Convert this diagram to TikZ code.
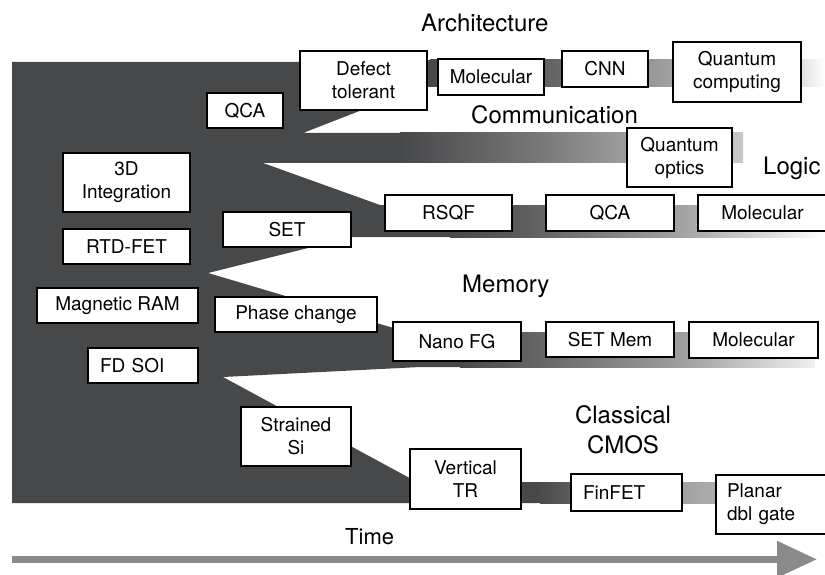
\documentclass[tikz,border=0pt]{standalone}
\usepackage{fontspec}
\setmainfont{TeX Gyre Heros}
\usetikzlibrary{arrows.meta}
\definecolor{dk}{RGB}{71,72,74}
\definecolor{gA1}{RGB}{100,100,100}
\definecolor{gA2}{RGB}{155,155,155}
\definecolor{gA3}{RGB}{225,225,225}
\definecolor{gC1}{RGB}{120,120,120}
\definecolor{gC2}{RGB}{155,155,155}
\definecolor{gC3}{RGB}{200,200,200}
\definecolor{gL1}{RGB}{95,95,95}
\definecolor{gL2}{RGB}{165,165,165}
\definecolor{gL3}{RGB}{250,250,250}
\definecolor{gM1}{RGB}{100,100,100}
\definecolor{gM2}{RGB}{158,158,158}
\definecolor{gM3}{RGB}{240,240,240}
\definecolor{gS0}{RGB}{75,75,75}
\definecolor{gS1}{RGB}{95,95,95}
\definecolor{gS2}{RGB}{165,165,165}
\definecolor{gS3}{RGB}{172,172,172}
\definecolor{arr}{RGB}{138,138,138}
% stops: fraction f -> 25+50f bp
\pgfdeclarehorizontalshading{archsh}{100bp}{color(0bp)=(dk); color(25bp)=(dk); color(40.2bp)=(gA1); color(54bp)=(gA2); color(72bp)=(gA3); color(75bp)=(white); color(100bp)=(white)}
\pgfdeclarehorizontalshading{commsh}{100bp}{color(0bp)=(dk); color(25bp)=(dk); color(45.5bp)=(gC1); color(57bp)=(gC2); color(75bp)=(gC3); color(100bp)=(gC3)}
\pgfdeclarehorizontalshading{logicsh}{100bp}{color(0bp)=(dk); color(25bp)=(dk); color(35.6bp)=(gL1); color(56.5bp)=(gL2); color(73.6bp)=(gL3); color(75bp)=(white); color(100bp)=(white)}
\pgfdeclarehorizontalshading{memsh}{100bp}{color(0bp)=(dk); color(25bp)=(dk); color(35.3bp)=(gM1); color(56.2bp)=(gM2); color(75bp)=(gM3); color(100bp)=(gM3)}
\pgfdeclarehorizontalshading{cmossh}{100bp}{color(0bp)=(gS0); color(25bp)=(gS0); color(35bp)=(gS1); color(67.5bp)=(gS2); color(75bp)=(gS3); color(100bp)=(gS3)}
\newcommand\bx[7][]{\node[box,minimum width={(#5-#3)*1pt},minimum height={(#6-#4)*1pt},#1] (#2) at ({(#3+#5)/2},{(#4+#6)/2}) {#7};}
\begin{document}
\begin{tikzpicture}[x=1pt,y=-1pt,
  box/.style={draw=black,line width=1.3pt,fill=white,inner sep=0pt,align=center,
    font=\fontsize{19}{23}\selectfont},
  hdr/.style={inner sep=0pt,font=\fontsize{24}{30}\selectfont},
  band/.style={draw=none}]
\useasboundingbox (0,0) rectangle (825,575);
% main dark shape
\fill[dk] (12,62) -- (300,62) -- (431,60) -- (431,87) -- (421,87) -- (303,133)
  -- (401,133) -- (401,163) -- (263,163) -- (380,205) -- (451,205) -- (451,237)
  -- (352,237) -- (208,273) -- (407,332) -- (461,332) -- (461,367) -- (420,367)
  -- (223,377) -- (417,482) -- (541,482) -- (541,503) -- (12,503) -- cycle;
% gradient bands
\shade[band,shading=archsh] (430,60) rectangle (825,87);
\shade[band,shading=commsh] (400,133) rectangle (743,163);
\shade[band,shading=logicsh] (450,205) rectangle (825,237);
\shade[band,shading=memsh] (460,332) rectangle (815,367);
\shade[band,shading=cmossh] (540,482) rectangle (716,503);
% headers
\node[hdr,anchor=base west] (harch) at (421,31.7) {Architecture};
\node[hdr,anchor=base west] (hcomm) at (471,124) {Communication};
\node[hdr,anchor=base west] (hlogic) at (763,175) {Logic};
\node[hdr,anchor=base west] (hmem) at (462,292.7) {Memory};
\node[hdr,align=center] (hcmos) at (623,429.5) {Classical\\CMOS};
% boxes
\bx{qcaA}{207}{93}{283}{128}{QCA}
\bx{defect}{300}{51}{427}{110}{Defect\\tolerant}
\bx{molA}{438}{59}{544}{95}{Molecular}
\bx{cnn}{562}{51}{648}{87}{CNN}
\bx{qcomp}{673}{42}{801}{102}{Quantum\\computing}
\bx{qopt}{627}{128}{732}{187}{Quantum\\optics}
\bx{d3}{63}{153}{190}{212}{3D\\Integration}
\bx{rtd}{63}{229}{190}{264}{RTD-FET}
\bx{set}{223}{212}{351}{247}{SET}
\bx{rsqf}{385}{195}{512}{231}{RSQF}
\bx{qcaL}{546}{195}{674}{231}{QCA}
\bx{molL}{698}{195}{827}{231}{Molecular}
\bx{mram}{37}{288}{198}{323}{Magnetic RAM}
\bx{phase}{215}{297}{377}{332}{Phase change}
\bx[align=left,text width=86pt,inner xsep=12pt]{fdsoi}{88}{348}{198}{383}{FD SOI}
\bx{nanofg}{393}{322}{521}{361}{Nano FG}
\bx{setmem}{546}{322}{674}{357}{SET Mem}
\bx{molM}{689}{322}{818}{358}{Molecular}
\bx{strained}{241}{407}{351}{466}{Strained\\Si}
\bx{vert}{410}{449}{521}{509}{Vertical\\TR}
\bx[align=left,text width=87pt,inner xsep=12pt]{finfet}{571}{474}{682}{511}{FinFET}
\bx[align=left,text width=102pt,inner xsep=11pt]{planar}{716}{475}{840}{534}{Planar\\dbl gate}
% time arrow
\coordinate (ts) at (12,559.3);
\coordinate (te) at (817,559.3);
\draw[arr,line width=7pt,-{Triangle[length=40pt,width=35pt]}] (ts) -- (te);
\node[inner sep=0pt,anchor=base west,font=\fontsize{22}{26}\selectfont] (time) at (345,544) {Time};
\end{tikzpicture}
\end{document}
